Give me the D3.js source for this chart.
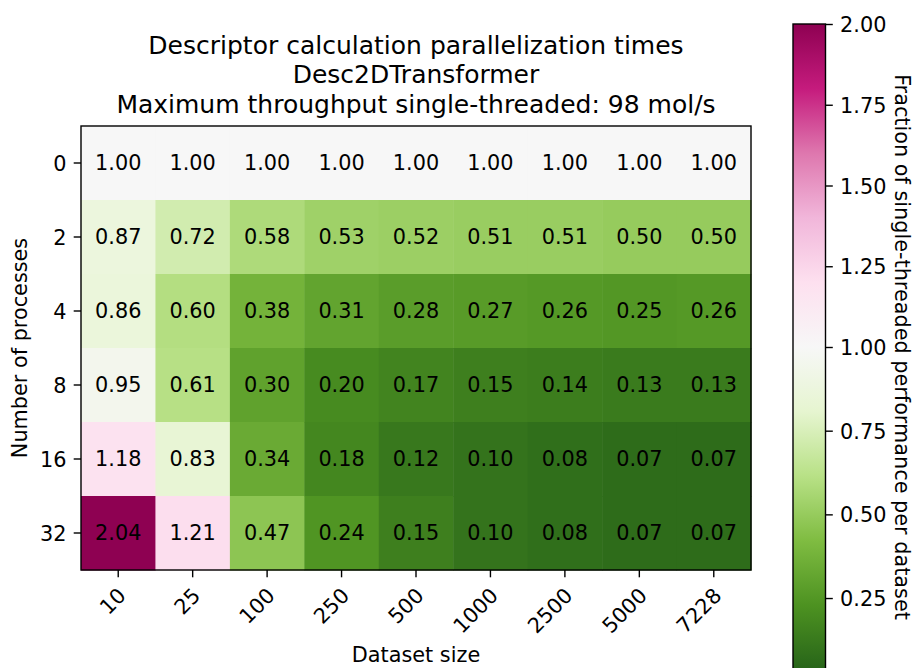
<!DOCTYPE html>
<html>
<head>
<meta charset="utf-8">
<script src="https://cdn.jsdelivr.net/npm/d3@7"></script>
<style>
	body { margin: 0; background: #fff; }
	svg text { font-family: "DejaVu Sans", sans-serif; fill: #000; }
	.axis path, .axis line { stroke: #000; stroke-width: 1.4; }
</style>
</head>
<body>
<svg id="vis" width="917" height="668"></svg>
<script>
// heatmap data: rows are process counts, columns are dataset sizes
const datasetSizes = ["10", "25", "100", "250", "500", "1000", "2500", "5000", "7228"];
const processes = ["0", "2", "4", "8", "16", "32"];
const fractions = [
	[1.00, 1.00, 1.00, 1.00, 1.00, 1.00, 1.00, 1.00, 1.00],
	[0.87, 0.72, 0.58, 0.53, 0.52, 0.51, 0.51, 0.50, 0.50],
	[0.86, 0.60, 0.38, 0.31, 0.28, 0.27, 0.26, 0.25, 0.26],
	[0.95, 0.61, 0.30, 0.20, 0.17, 0.15, 0.14, 0.13, 0.13],
	[1.18, 0.83, 0.34, 0.18, 0.12, 0.10, 0.08, 0.07, 0.07],
	[2.04, 1.21, 0.47, 0.24, 0.15, 0.10, 0.08, 0.07, 0.07]
];
const colorbarTicks = [0.25, 0.50, 0.75, 1.00, 1.25, 1.50, 1.75, 2.00];
const titleLines = [
	"Descriptor calculation parallelization times",
	"Desc2DTransformer",
	"Maximum throughput single-threaded: 98 mol/s"
];

// PiYG (colorbrewer 11), used reversed like matplotlib PiYG_r
const piyg = ["#8e0152", "#c51b7d", "#de77ae", "#f1b6da", "#fde0ef", "#f7f7f7",
	"#e6f5d0", "#b8e186", "#7fbc41", "#4d9221", "#276419"];
const vmin = 0.035, vcenter = 1.0, vmax = 2.0;

const svg = d3.select("svg#vis");
const fontSize = 20.8;
const tickLen = 7.3, tickPad = 7.3;

const box = {left: 81, right: 751, top: 126, bottom: 570};

const x = d3.scaleBand().domain(datasetSizes).range([box.left, box.right]);
const y = d3.scaleBand().domain(processes).range([box.top, box.bottom]);

// two-slope norm around 1.0, then into the colormap
const norm = d3.scaleLinear().domain([vmin, vcenter, vmax]).range([1, 0.5, 0]).clamp(true);
const cmap = d3.scaleLinear().domain(d3.range(11).map(i => i / 10)).range(piyg);
const color = v => cmap(norm(v));

const cells = [];
fractions.forEach((row, i) => row.forEach((v, j) => cells.push({p: processes[i], n: datasetSizes[j], v: v})));

const g = svg.append("g");

g.selectAll("rect.cell")
	.data(cells)
	.enter()
	.append("rect")
	.attr("class", "cell")
	.attr("x", d => x(d.n))
	.attr("y", d => y(d.p))
	.attr("width", x.bandwidth() + 0.5)
	.attr("height", y.bandwidth() + 0.5)
	.attr("fill", d => color(d.v));

g.selectAll("text.val")
	.data(cells)
	.enter()
	.append("text")
	.attr("class", "val")
	.attr("x", d => x(d.n) + x.bandwidth() / 2)
	.attr("y", d => y(d.p) + y.bandwidth() / 2)
	.attr("dy", "0.36em")
	.attr("text-anchor", "middle")
	.style("font-size", fontSize + "px")
	.text(d => d.v.toFixed(2));

// axes
const xAxis = svg.append("g")
	.attr("class", "axis")
	.attr("transform", translate(0, box.bottom))
	.call(d3.axisBottom(x).tickSize(tickLen).tickPadding(tickPad));
xAxis.select(".domain").remove();
xAxis.selectAll("text")
	.attr("text-anchor", "end")
	.attr("y", 0)
	.attr("dy", 0)
	.attr("transform", d => translate(x.bandwidth() / 2 - 38, 27) + " rotate(-45)")
	.style("font-size", fontSize + "px");
xAxis.selectAll(".tick").each(function(d) {
	d3.select(this).select("text")
		.attr("transform", translate(9, 27) + " rotate(-45)");
});

const yAxis = svg.append("g")
	.attr("class", "axis")
	.attr("transform", translate(box.left, 0))
	.call(d3.axisLeft(y).tickSize(tickLen).tickPadding(tickPad));
yAxis.select(".domain").remove();
yAxis.selectAll("text")
	.attr("dy", "0.36em")
	.style("font-size", fontSize + "px");

// frame
svg.append("rect")
	.attr("x", box.left)
	.attr("y", box.top)
	.attr("width", box.right - box.left)
	.attr("height", box.bottom - box.top)
	.attr("fill", "none")
	.attr("stroke", "#000")
	.attr("stroke-width", 1.4);

// title
svg.append("g").selectAll("text")
	.data(titleLines)
	.enter()
	.append("text")
	.attr("x", (box.left + box.right) / 2)
	.attr("y", (d, i) => 112.5 - (titleLines.length - 1 - i) * 29.3)
	.attr("text-anchor", "middle")
	.style("font-size", "25px")
	.text(d => d);

// axis labels
svg.append("text")
	.attr("x", (box.left + box.right) / 2)
	.attr("y", 661.5)
	.attr("text-anchor", "middle")
	.style("font-size", fontSize + "px")
	.text("Dataset size");

svg.append("text")
	.attr("transform", translate(27, (box.top + box.bottom) / 2) + " rotate(-90)")
	.attr("text-anchor", "middle")
	.style("font-size", fontSize + "px")
	.text("Number of processes");

// colorbar
const cb = {left: 793, right: 825.5, top: 24, bottom: 670};
const cbY = d3.scaleLinear()
	.domain([vmin, vcenter, vmax])
	.range([cb.bottom, (cb.top + cb.bottom) / 2, cb.top]);

const grad = svg.append("defs").append("linearGradient")
	.attr("id", "cbgrad")
	.attr("x1", 0).attr("y1", 0).attr("x2", 0).attr("y2", 1);
grad.selectAll("stop")
	.data(piyg)
	.enter()
	.append("stop")
	.attr("offset", (d, i) => (i * 10) + "%")
	.attr("stop-color", d => d);

svg.append("rect")
	.attr("x", cb.left)
	.attr("y", cb.top)
	.attr("width", cb.right - cb.left)
	.attr("height", cb.bottom - cb.top)
	.attr("fill", "url(#cbgrad)")
	.attr("stroke", "#000")
	.attr("stroke-width", 1.4);

const cbAxis = svg.append("g")
	.attr("class", "axis")
	.attr("transform", translate(cb.right, 0))
	.call(d3.axisRight(cbY).tickValues(colorbarTicks).tickFormat(d3.format(".2f")).tickSize(tickLen).tickPadding(tickPad));
cbAxis.select(".domain").remove();
cbAxis.selectAll("text")
	.attr("dy", "0.36em")
	.style("font-size", fontSize + "px");

svg.append("text")
	.attr("transform", translate(895, (cb.top + cb.bottom) / 2) + " rotate(90)")
	.attr("text-anchor", "middle")
	.style("font-size", fontSize + "px")
	.text("Fraction of single-threaded performance per dataset");

function translate(a, b) {
	return "translate(" + a + "," + b + ")";
}
</script>
</body>
</html>
